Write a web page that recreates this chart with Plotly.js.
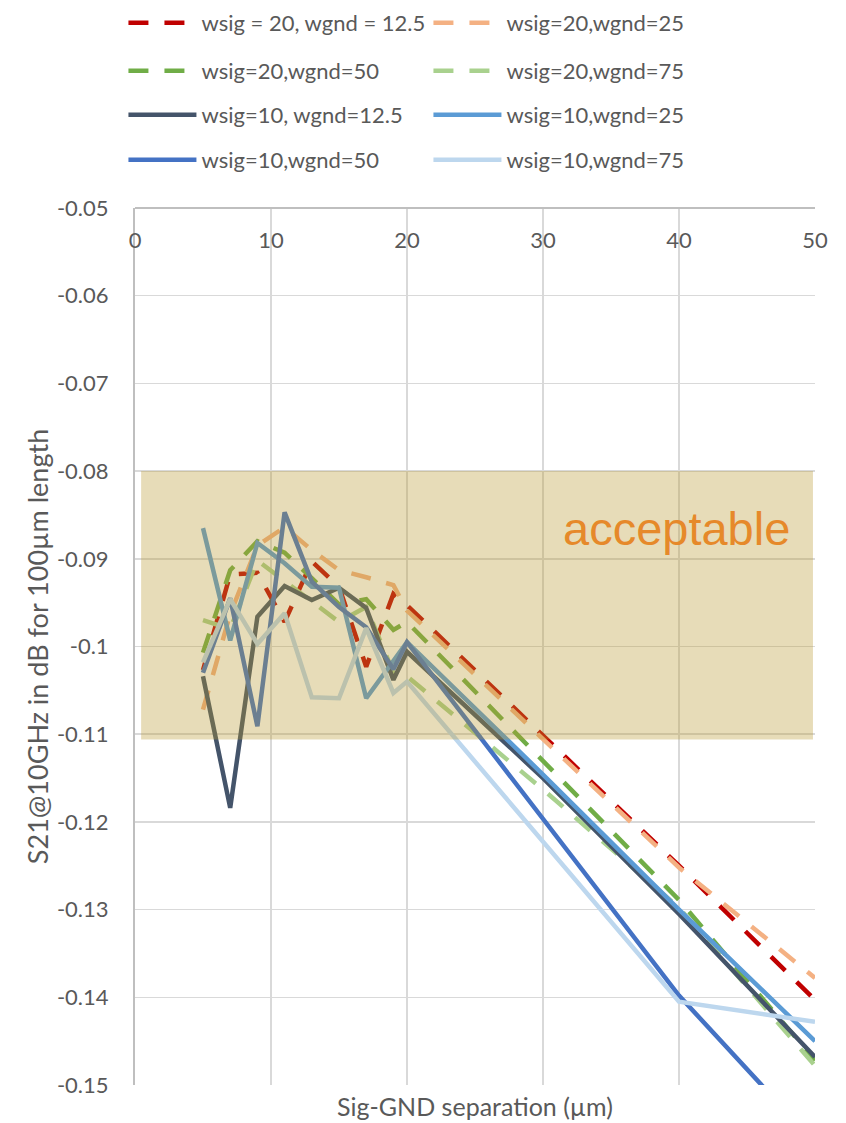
<!DOCTYPE html>
<html>
<head>
<meta charset="utf-8">
<script src="https://cdn.plot.ly/plotly-3.0.1.min.js"></script>
<style>html,body{margin:0;padding:0;background:#fff;}#chart{width:846px;height:1123px;}</style>
</head>
<body>
<div id="chart"></div>
<script>
// Sig-GND separation (µm)
const separation = [5, 7, 9, 11, 13, 15, 17, 19, 20, 30, 40, 50];

const seriesNames = [
  "wsig = 20, wgnd = 12.5", "wsig=20,wgnd=25",
  "wsig=20,wgnd=50", "wsig=20,wgnd=75",
  "wsig=10, wgnd=12.5", "wsig=10,wgnd=25",
  "wsig=10,wgnd=50", "wsig=10,wgnd=75"
];

const w20_g12 = [-0.1027, -0.0918, -0.0916, -0.0972, -0.0903, -0.0932, -0.1023, -0.0940, -0.0953, -0.1101, -0.1250, -0.1403];
const w20_g25 = [-0.1072, -0.0963, -0.0885, -0.0864, -0.0890, -0.0913, -0.0921, -0.0930, -0.0959, -0.1105, -0.1252, -0.1378];
const w20_g50 = [-0.1007, -0.0913, -0.0880, -0.0893, -0.0922, -0.0952, -0.0946, -0.0981, -0.0972, -0.1131, -0.1289, -0.1472];
const w20_g75 = [-0.0970, -0.0980, -0.0902, -0.0925, -0.0948, -0.0972, -0.0955, -0.1030, -0.1034, -0.1163, -0.1298, -0.1478];
const w10_g12 = [-0.1034, -0.1184, -0.0966, -0.0931, -0.0947, -0.0933, -0.0956, -0.1038, -0.1006, -0.1150, -0.1305, -0.1468];
const w10_g25 = [-0.0865, -0.0993, -0.0882, -0.0905, -0.0932, -0.0933, -0.1059, -0.1015, -0.0995, -0.1146, -0.1300, -0.1450];
const w10_g50 = [-0.1030, -0.0945, -0.1091, -0.0847, -0.0926, -0.0955, -0.0978, -0.1026, -0.0995, -0.1197, -0.1398, -0.1566];
const w10_g75 = [-0.1018, -0.0946, -0.0997, -0.0962, -0.1058, -0.1059, -0.0979, -0.1053, -0.1040, -0.1222, -0.1405, -0.1428];

const xTicks = [0, 10, 20, 30, 40, 50];
const yTickVals = [-0.05, -0.06, -0.07, -0.08, -0.09, -0.1, -0.11, -0.12, -0.13, -0.14, -0.15];
const yTickText = ["-0.05", "-0.06", "-0.07", "-0.08", "-0.09", "-0.1", "-0.11", "-0.12", "-0.13", "-0.14", "-0.15"];

// acceptable band
const bandX = [0.45, 49.85];
const bandY = [-0.08, -0.1106];
const bandLabel = "acceptable";

const values = [w20_g12, w20_g25, w20_g50, w20_g75, w10_g12, w10_g25, w10_g50, w10_g75];
const colors = ["#C00000", "#F4B183", "#70AD47", "#A9D18E", "#44546A", "#5B9BD5", "#4472C4", "#BDD7EE"];
const dashed = [true, true, true, true, false, false, false, false];

const FONT = "Lato, 'Open Sans', sans-serif";
const TXT = "#595959";

const legendIds = ["legend", "legend2", "legend3", "legend4"];

const traces = values.map((v, i) => ({
  type: "scatter",
  mode: "lines",
  x: separation,
  y: v,
  name: seriesNames[i],
  legend: legendIds[Math.floor(i / 2)],
  line: {color: colors[i], width: 4.5, dash: dashed[i] ? "20px,16px" : "solid"},
  hoverinfo: "skip"
}));
traces.push({type: "scatter", mode: "lines", x: [], y: [], xaxis: "x2", showlegend: false, hoverinfo: "skip"});

const legendRowY = [1.2110, 1.1562, 1.1060, 1.0547];
function legendRow(y) {
  return {
    orientation: "h",
    x: -0.017, y: y,
    xanchor: "left", yanchor: "middle",
    font: {family: FONT, size: 22, color: TXT},
    itemwidth: 68,
    entrywidth: 222, entrywidthmode: "pixels",
    bgcolor: "rgba(0,0,0,0)",
    borderwidth: 0
  };
}

const layout = {
  width: 846, height: 1123,
  margin: {l: 135, r: 31, t: 208, b: 38, autoexpand: false},
  paper_bgcolor: "#fff", plot_bgcolor: "#fff",
  showlegend: true,
  legend: legendRow(legendRowY[0]),
  legend2: legendRow(legendRowY[1]),
  legend3: legendRow(legendRowY[2]),
  legend4: legendRow(legendRowY[3]),
  xaxis: {
    range: [0, 50], side: "bottom",
    tickvals: xTicks, showticklabels: false, ticks: "",
    showgrid: true, gridcolor: "#D9D9D9", gridwidth: 1.5,
    zeroline: false, showline: false, automargin: false,
    title: {text: "Sig-GND separation (µm)", font: {family: FONT, size: 25, color: TXT}, standoff: 13}
  },
  xaxis2: {
    range: [0, 50], side: "bottom", overlaying: "x", anchor: "free", position: 1,
    tickvals: xTicks, ticktext: xTicks.map(String), ticks: "",
    ticklabelstandoff: 13,
    tickfont: {family: FONT, size: 22, color: TXT},
    showgrid: false, zeroline: false,
    showline: true, linecolor: "#BFBFBF", linewidth: 2, automargin: false
  },
  yaxis: {
    range: [-0.15, -0.05],
    tickvals: yTickVals, ticktext: yTickText, ticks: "",
    ticklabelstandoff: 20,
    tickfont: {family: FONT, size: 22, color: TXT},
    showgrid: true, gridcolor: "#D9D9D9", gridwidth: 1.5,
    zeroline: false, showline: true, linecolor: "#BFBFBF", linewidth: 2,
    automargin: false,
    title: {text: "S21@10GHz in dB for 100µm length", font: {family: FONT, size: 27, color: TXT}, standoff: 0}
  },
  shapes: [{
    type: "rect", xref: "x", yref: "y", layer: "above",
    x0: bandX[0], x1: bandX[1], y0: bandY[0], y1: bandY[1],
    fillcolor: "rgba(185,152,47,0.34)", line: {width: 0}
  }],
  annotations: [{
    xref: "x", yref: "y", x: 39.8, y: -0.0865,
    text: bandLabel, showarrow: false, xanchor: "center", yanchor: "middle",
    font: {family: "'Liberation Sans', Arial, sans-serif", size: 47, color: "#E6892A"}
  }]
};

Plotly.newPlot("chart", traces, layout, {displayModeBar: false, staticPlot: true});
</script>
</body>
</html>
